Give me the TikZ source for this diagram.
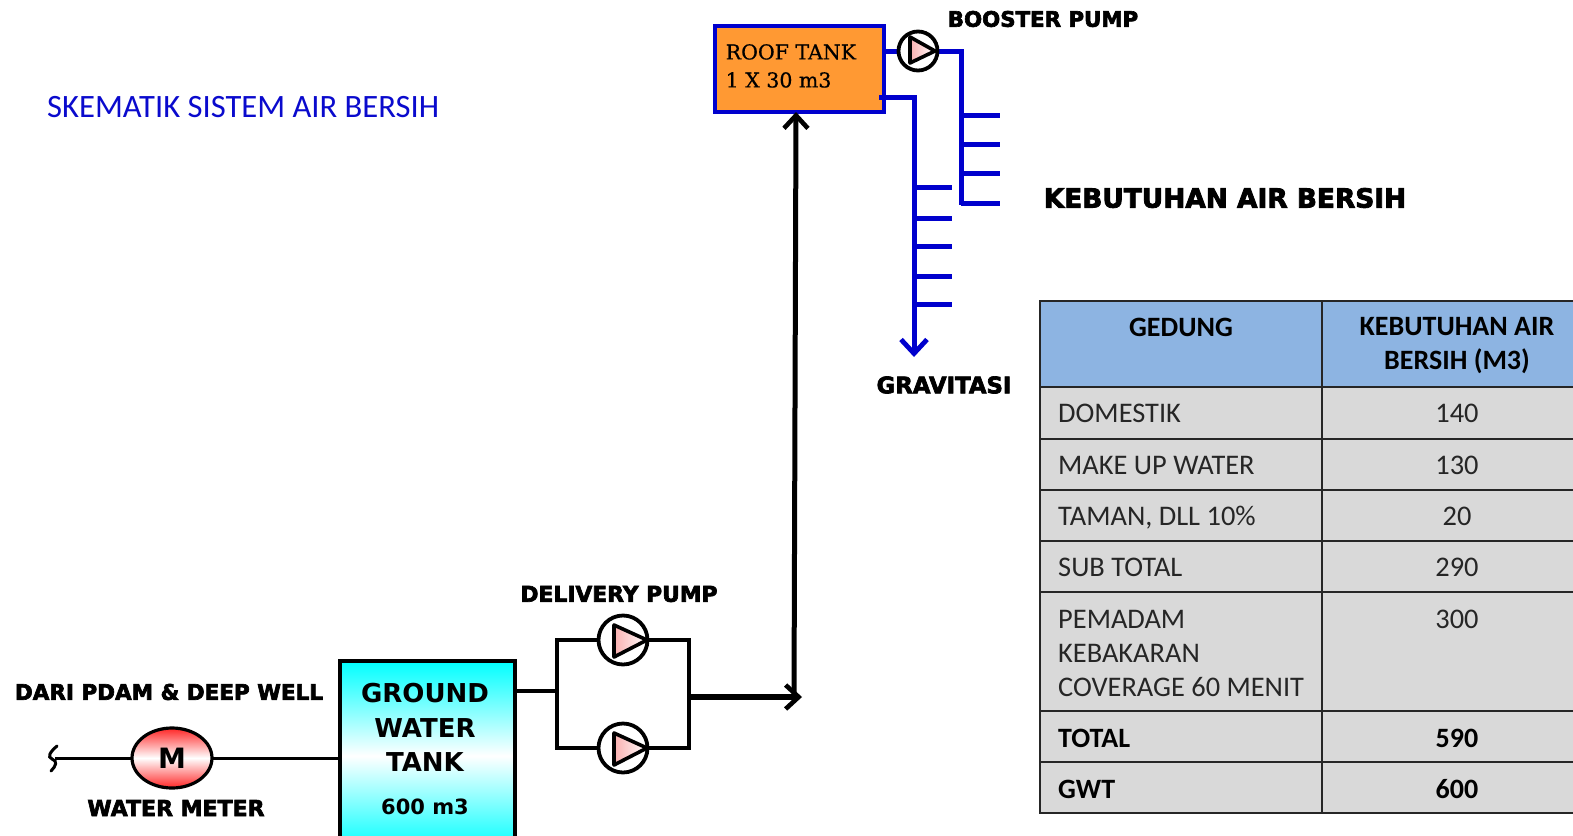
\documentclass[tikz,border=0pt]{standalone}
\usepackage{fontspec}
\usetikzlibrary{arrows.meta,shapes.geometric}
\setmainfont{Carlito}
\newfontfamily\labfont[FakeBold=3]{DejaVu Sans Bold}
\newfontfamily\tankfont{DejaVu Sans Bold}
\newfontfamily\rooffont[FakeBold=0.6]{DejaVu Serif}
\definecolor{pipeblue}{RGB}{0,0,205}
\definecolor{rooforange}{RGB}{255,153,51}
\definecolor{headblue}{RGB}{141,180,226}
\definecolor{rowgrey}{RGB}{217,217,217}
\definecolor{titleblue}{RGB}{10,10,205}
\definecolor{pumppink}{RGB}{250,175,175}
\tikzset{
  bluepipe/.style={draw=pipeblue,line width=5pt},
  blackpipe/.style={draw=black,line width=3.6pt},
  bigbarb/.style={-{Straight Barb[length=13pt,width=24pt,line width=4.6pt]}},
  thickpipe/.style={draw=black,line width=5.4pt,bigbarb},
  pumpnode/.style={circle,draw=black,line width=3.8pt,fill=white,inner sep=0pt},
  pumptri/.style={draw=black,line width=3.6pt,line join=round,left color=pumppink,right color=white},
  lab/.style={font=\labfont,text=black,inner sep=0pt},
  tanklab/.style={font=\tankfont,text=black,inner sep=0pt},
  cell/.style={font=\fontsize{28.4}{34}\selectfont,text=black!85,inner sep=0pt},
  cellb/.style={font=\fontsize{28}{34}\selectfont\bfseries,text=black,inner sep=0pt},
  tline/.style={draw=black!85,line width=2pt}
}
\begin{document}
\begin{tikzpicture}[x=1pt,y=-1pt]
\useasboundingbox (0,0) rectangle (1573,835);
% title
\node[font=\fontsize{32.6}{36}\selectfont,text=titleblue,anchor=west,inner sep=0pt] (title) at (47,107) {SKEMATIK SISTEM AIR BERSIH};
% roof tank
\node[draw=pipeblue,fill=rooforange,line width=4.2pt,minimum width=169pt,minimum height=86pt,anchor=north west,inner sep=0pt] (roof) at (713,24) {};
\node[font=\rooffont\fontsize{20.5}{28}\selectfont,align=left,anchor=north west,inner sep=0pt,text=black] (rooftxt) at (725.5,44) {ROOF TANK\\1 X 30 m3};
% booster pump
\coordinate (bt) at (961,51);
\coordinate (bb) at (961,205);
\draw[bluepipe] (884,51) -- (900,51);
\draw[bluepipe] (935,51) -- (bt) -- (bb);
\node[pumpnode,minimum size=39pt] (bpump) at (918,51) {};
\path[pumptri] (910,37) -- (935,51) -- (910,63) -- cycle;
\node[lab,font=\labfont\fontsize{21.3}{24}\selectfont] (blab) at (1043,19) {BOOSTER PUMP};
\foreach \y in {115.5,144,173.5,203.5}{\draw[bluepipe] (961,\y) -- (1000,\y);}
% gravity
\coordinate (gs) at (879,97);
\coordinate (gc) at (914,97);
\coordinate (ge) at (914,357);
\draw[bluepipe,line join=miter,-{Straight Barb[length=14pt,width=26pt,line width=4.8pt]}] (gs) -- (gc) -- (ge);
\foreach \y in {187,218,246.5,276.5,304.5}{\draw[bluepipe] (914,\y) -- (952,\y);}
\node[lab,font=\labfont\fontsize{22.8}{26}\selectfont] (glab) at (944,385) {GRAVITASI};
\node[lab,font=\labfont\fontsize{26.4}{30}\selectfont] (klab) at (1225,198) {KEBUTUHAN AIR BERSIH};
% ground tank
\node[draw=black,line width=3.6pt,minimum width=175pt,minimum height=190pt,anchor=north west,inner sep=0pt,top color=cyan,bottom color=cyan,middle color=white] (gwt) at (338,659) {};
\node[tanklab,font=\tankfont\fontsize{26}{30}\selectfont] (g1) at (425,693) {GROUND};
\node[tanklab,font=\tankfont\fontsize{26}{30}\selectfont] (g2) at (425,728) {WATER};
\node[tanklab,font=\tankfont\fontsize{26}{30}\selectfont] (g3) at (425,762) {TANK};
\node[tanklab,font=\tankfont\fontsize{21}{26}\selectfont] (g4) at (425,807) {600 m3};
% water meter
\coordinate (src) at (55,758);
\draw[line width=3pt] (src) -- (gwt.west |- src);
\draw[line width=3pt,line cap=round] (57,746) .. controls (50,752) and (47,757) .. (52,759) .. controls (58,761) and (56,766) .. (51,771);
\node[ellipse,draw=black,line width=3.2pt,minimum width=80pt,minimum height=60pt,inner sep=0pt,top color=red!85,bottom color=red!85,middle color=white,font=\tankfont\fontsize{28}{30}\selectfont] (meter) at (172,758) {M};
\node[lab,font=\labfont\fontsize{22}{24}\selectfont] (wlab) at (176,808) {WATER METER};
\node[lab,font=\labfont\fontsize{21.5}{24}\selectfont] (dlab) at (169,692) {DARI PDAM \& DEEP WELL};
% delivery pumps
\coordinate (j0) at (557,691);
\coordinate (tl) at (557,640);
\coordinate (br) at (689,748);
\coordinate (jx) at (687,697);
\coordinate (tip) at (802,697);
\coordinate (rooftip) at (796,112);
\coordinate (risebot) at (794,697);
\draw[blackpipe] (gwt.east |- j0) -- (j0);
\draw[blackpipe,line join=miter] (tl) rectangle (br);
\node[pumpnode,minimum size=49pt] (p1) at (623,640) {};
\node[pumpnode,minimum size=49pt] (p2) at (623,748) {};
\path[pumptri] (614,625) -- (647,640) -- (614,657) -- cycle;
\path[pumptri] (614,733) -- (647,748) -- (614,765) -- cycle;
\draw[thickpipe] (jx) -- (tip);
\draw[line width=5pt,bigbarb] (risebot) -- (rooftip);
\node[lab,font=\labfont\fontsize{21.8}{24}\selectfont] (plab) at (619,594) {DELIVERY PUMP};
% table
\fill[headblue] (1040,301) rectangle (1573,387);
\fill[rowgrey] (1040,387) rectangle (1573,813);
\foreach \y in {387,438.5,490,541,592,711,762}{\draw[tline] (1040,\y) -- (1573,\y);}
\draw[tline] (1322,301) -- (1322,813);
\draw[draw=black!85,line width=2.6pt] (1573,301) -- (1040,301) -- (1040,813) -- (1573,813);
\node[cellb] (h1) at (1181,327) {GEDUNG};
\node[cellb,align=center] (h2) at (1457,346) {KEBUTUHAN AIR\\BERSIH (M3)};
\node[cell,anchor=west] (r1) at (1058,413) {DOMESTIK};
\node[cell] (v1) at (1457,413) {140};
\node[cell,anchor=west] (r2) at (1058,465) {MAKE UP WATER};
\node[cell] (v2) at (1457,465) {130};
\node[cell,anchor=west] (r3) at (1058,518) {TAMAN, DLL 10\%};
\node[cell] (v3) at (1457,516) {20};
\node[cell,anchor=west] (r4) at (1058,567) {SUB TOTAL};
\node[cell] (v4) at (1457,567) {290};
\node[cell,anchor=north west,align=left] (r5) at (1058,610) {PEMADAM\\KEBAKARAN\\COVERAGE 60 MENIT};
\node[cell] (v5) at (1457,619) {300};
\node[cellb,anchor=west] (r6) at (1058,738) {TOTAL};
\node[cellb] (v6) at (1457,738) {590};
\node[cellb,anchor=west] (r7) at (1058,789) {GWT};
\node[cellb] (v7) at (1457,789) {600};
\end{tikzpicture}
\end{document}
